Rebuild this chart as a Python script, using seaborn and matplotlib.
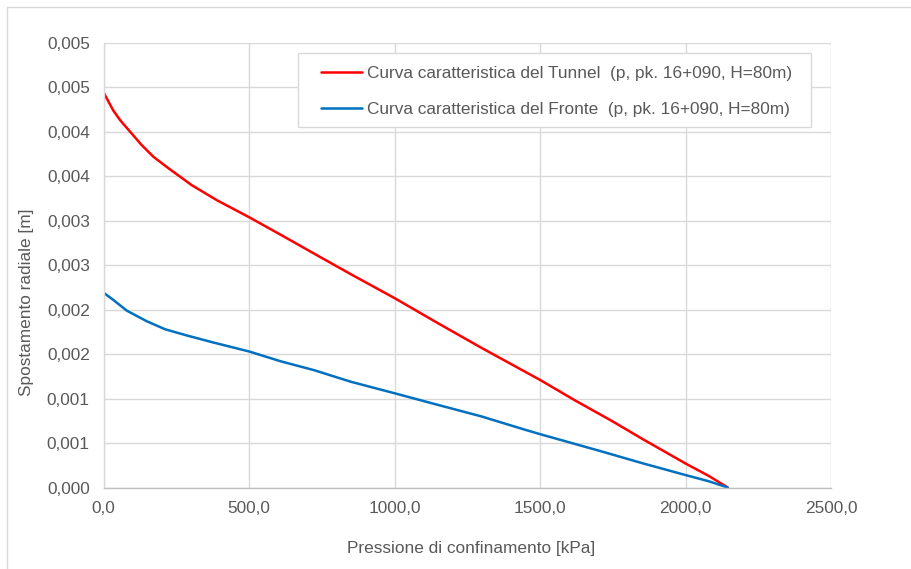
import matplotlib
matplotlib.use("Agg")
import matplotlib.pyplot as plt
from matplotlib.patches import Rectangle
from matplotlib.lines import Line2D
import seaborn as sns
import pandas as pd

# Confinement pressure [kPa] and radial displacement [m] for the tunnel curve
tunnel_p = [0, 33, 57, 86, 131, 171, 223, 303, 390, 500, 610, 740, 849, 1000,
            1148, 1299, 1500, 1620, 1746, 1855, 2000, 2080, 2145]
tunnel_u = [0.00444, 0.00424, 0.00413, 0.00402, 0.00385, 0.00372, 0.00359,
            0.00340, 0.00323, 0.00304, 0.00284, 0.00260, 0.00240, 0.00213,
            0.00185, 0.00157, 0.00121, 0.00098, 0.00075, 0.00054, 0.00027,
            0.00013, 0.00000]

# Same quantities for the face curve
face_p = [0, 33, 79, 148, 211, 286, 378, 500, 608, 723, 849, 1000, 1148, 1298,
          1448, 1500, 1707, 1855, 2000, 2080, 2145]
face_u = [0.00219, 0.00211, 0.00199, 0.00187, 0.00178, 0.00171, 0.00163,
          0.00153, 0.00142, 0.00132, 0.00119, 0.00106, 0.00093, 0.00080,
          0.00065, 0.00060, 0.00041, 0.00027, 0.00014, 0.00007, 0.00000]

series_names = ["Curva caratteristica del Tunnel  (p, pk. 16+090, H=80m)",
                "Curva caratteristica del Fronte  (p, pk. 16+090, H=80m)"]
series_colors = ["#FF0000", "#0070C0"]

x_ticks = [0, 500, 1000, 1500, 2000, 2500]
x_tick_labels = ["0,0", "500,0", "1000,0", "1500,0", "2000,0", "2500,0"]
y_ticks = [0.0, 0.0005, 0.001, 0.0015, 0.002, 0.0025, 0.003, 0.0035, 0.004,
           0.0045, 0.005]
y_tick_labels = ["0,000", "0,001", "0,001", "0,002", "0,002", "0,003",
                 "0,003", "0,004", "0,004", "0,005", "0,005"]

x_title = "Pressione di confinamento [kPa]"
y_title = "Spostamento radiale [m]"

df = pd.concat([
    pd.DataFrame({"p": tunnel_p, "u": tunnel_u, "serie": series_names[0]}),
    pd.DataFrame({"p": face_p, "u": face_u, "serie": series_names[1]}),
], ignore_index=True)

sns.set_theme(style="white")
plt.rcParams["font.family"] = ["Liberation Sans", "DejaVu Sans"]

TEXT = "#595959"
GRID = "#d9d9d9"
FS = 12.4

W, H = 912, 569
fig = plt.figure(figsize=(W / 100, H / 100), dpi=100)
left, right, top, bottom = 103.7, 831.0, 43.0, 487.5
ax = fig.add_axes([left / W, 1 - bottom / H, (right - left) / W, (bottom - top) / H])

sns.lineplot(data=df, x="p", y="u", hue="serie", palette=series_colors,
             sort=False, estimator=None, linewidth=1.8, legend=False, ax=ax)

ax.set_xlim(0, 2500)
ax.set_ylim(0, 0.005)
ax.set_xticks(x_ticks)
ax.set_xticklabels(x_tick_labels)
ax.set_yticks(y_ticks)
ax.set_yticklabels(y_tick_labels)
ax.tick_params(axis="both", length=0, labelsize=FS, labelcolor=TEXT)
ax.tick_params(axis="x", pad=10)
ax.tick_params(axis="y", pad=10)
ax.grid(True, color=GRID, linewidth=1.0)
ax.set_axisbelow(True)
for side in ["top", "right"]:
    ax.spines[side].set_visible(False)
ax.spines["left"].set_color(GRID)
ax.spines["left"].set_linewidth(1.0)
ax.spines["bottom"].set_color("#bfbfbf")
ax.spines["bottom"].set_linewidth(1.0)

ax.set_xlabel(x_title, fontsize=FS, color=TEXT)
ax.set_ylabel(y_title, fontsize=FS, color=TEXT)
ax.xaxis.set_label_coords((471 - left) / (right - left), (bottom - 548) / (bottom - top))
ax.xaxis.label.set_va("center")
ax.yaxis.set_label_coords((27 - left) / (right - left), (bottom - 302) / (bottom - top))
ax.yaxis.label.set_va("center")

# Legend box with white background and light border
lx0, lx1, ly0, ly1 = 298, 811, 53.3, 127.3
ax.add_patch(Rectangle(((lx0 - left) / (right - left), (bottom - ly1) / (bottom - top)),
                       (lx1 - lx0) / (right - left), (ly1 - ly0) / (bottom - top),
                       transform=ax.transAxes, facecolor="white", edgecolor=GRID,
                       linewidth=1.0, zorder=4))
handles = [Line2D([], [], color=c, linewidth=1.8) for c in series_colors]
leg = ax.legend(handles, series_names, loc="upper left", frameon=False,
                bbox_to_anchor=((320.7 - left) / (right - left), (bottom - 65.5) / (bottom - top)),
                borderaxespad=0, borderpad=0, handlelength=2.38, handletextpad=0.29,
                labelspacing=1.27, fontsize=FS, labelcolor=TEXT)
leg.set_zorder(5)

# Outer chart frame
fig.patches.append(Rectangle((7 / W, -0.1), 1.2, 1.1 - 7 / H, transform=fig.transFigure,
                             fill=False, edgecolor=GRID, linewidth=1.0))

fig.savefig("out.png", dpi=100, facecolor="white")
